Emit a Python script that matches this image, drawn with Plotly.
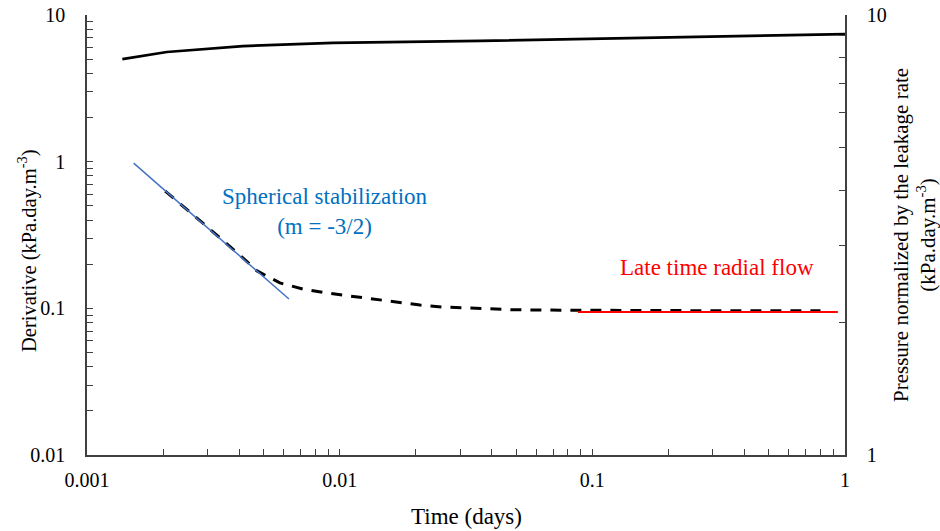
import plotly.graph_objects as go

# ---------------- data ----------------
pressure_time = [0.00138, 0.00207, 0.00414, 0.0094, 0.0359, 0.1, 1.0]
pressure_norm = [7.94, 8.24, 8.50, 8.64, 8.73, 8.83, 9.05]

deriv_time = [0.00204, 0.0025, 0.003, 0.0035, 0.004, 0.00471, 0.0058, 0.00716,
              0.00891, 0.011, 0.01355, 0.01685, 0.0208, 0.0256, 0.0319, 0.0393,
              0.0485, 0.0765, 0.104, 0.2, 0.4, 0.8]
deriv_value = [0.630, 0.470, 0.358, 0.284, 0.233, 0.180, 0.149, 0.1353,
               0.1272, 0.1213, 0.1157, 0.1104, 0.1053, 0.1021, 0.1005, 0.0989,
               0.0978, 0.0972, 0.0968, 0.0965, 0.0963, 0.0962]

spherical_time = [0.00153, 0.0063]
spherical_value = [0.978, 0.1157]

radial_time = [0.0877, 0.937]
radial_value = [0.0945, 0.0945]

x_decades = [0.001, 0.01, 0.1, 1]
x_decade_labels = ["0.001", "0.01", "0.1", "1"]
y_decades = [0.01, 0.1, 1, 10]
y_decade_labels = ["0.01", "0.1", "1", "10"]
y2_decades = [1, 10]
y2_decade_labels = ["1", "10"]


def log_ticks(decades, labels):
    vals, texts = [], []
    for i, d in enumerate(decades):
        if i < len(decades) - 1:
            for k in range(1, 10):
                vals.append(d * k)
                texts.append(labels[i] if k == 1 else " ")
        else:
            vals.append(d)
            texts.append(labels[i])
    return vals, texts


xv, xt = log_ticks(x_decades, x_decade_labels)
yv, yt = log_ticks(y_decades, y_decade_labels)
y2v, y2t = log_ticks(y2_decades, y2_decade_labels)

FONT = "Liberation Serif, Times New Roman, serif"
AX = "#404040"

fig = go.Figure()
fig.add_trace(go.Scatter(x=pressure_time, y=pressure_norm, mode="lines",
                         line=dict(color="black", width=2.7), yaxis="y2"))
fig.add_trace(go.Scatter(x=deriv_time, y=deriv_value, mode="lines",
                         line=dict(color="black", width=3, dash="11px,9px")))
fig.add_trace(go.Scatter(x=spherical_time, y=spherical_value, mode="lines",
                         line=dict(color="#4472C4", width=1.5)))
fig.add_trace(go.Scatter(x=radial_time, y=radial_value, mode="lines",
                         line=dict(color="#FF0000", width=2)))

common = dict(showgrid=False, zeroline=False, showline=True, linecolor=AX,
              linewidth=1.5, ticks="inside", ticklen=6, tickwidth=1,
              tickcolor=AX, automargin=False, tickangle=0,
              tickfont=dict(family=FONT, size=20, color="black"))

fig.update_layout(
    width=940, height=531,
    margin=dict(l=87, r=95, t=15, b=76),
    paper_bgcolor="white", plot_bgcolor="white",
    showlegend=False,
    xaxis=dict(type="log", range=[-3, 0], tickmode="array", tickvals=xv,
               ticktext=xt, ticklabelstandoff=6, **common),
    yaxis=dict(type="log", range=[-2, 1], tickmode="array", tickvals=yv,
               ticktext=yt, ticklabelstandoff=16, **common),
    yaxis2=dict(type="log", range=[0, 1], tickmode="array", tickvals=y2v,
                ticktext=y2t, overlaying="y", side="right",
                ticklabelstandoff=16, **common),
    annotations=[
        dict(text="Time (days)", xref="paper", yref="paper", x=0.5, y=0,
             yshift=-61, showarrow=False, xanchor="center", yanchor="middle",
             font=dict(family=FONT, size=23, color="black")),
        dict(text="Derivative (kPa.day.m<sup>-3</sup>)", xref="paper",
             yref="paper", x=0, y=0.5, xshift=-60, yshift=-16, textangle=-90,
             showarrow=False, xanchor="center", yanchor="middle",
             font=dict(family=FONT, size=20.5, color="black")),
        dict(text="Pressure normalized by the leakage rate<br>(kPa.day.m<sup>-3</sup>)",
             xref="paper", yref="paper", x=1, y=0.5, xshift=69, textangle=-90,
             showarrow=False, xanchor="center", yanchor="middle",
             font=dict(family=FONT, size=21, color="black")),
        dict(text="Spherical stabilization<br>(m = -3/2)", xref="paper",
             yref="paper", x=0.314, y=0.5545, showarrow=False,
             xanchor="center", yanchor="middle",
             font=dict(family=FONT, size=23, color="#0070C0")),
        dict(text="Late time radial flow", xref="paper", yref="paper",
             x=0.831, y=0.427, showarrow=False,
             xanchor="center", yanchor="middle",
             font=dict(family=FONT, size=23, color="#FF0000")),
    ],
)

fig.write_html("out.html")
